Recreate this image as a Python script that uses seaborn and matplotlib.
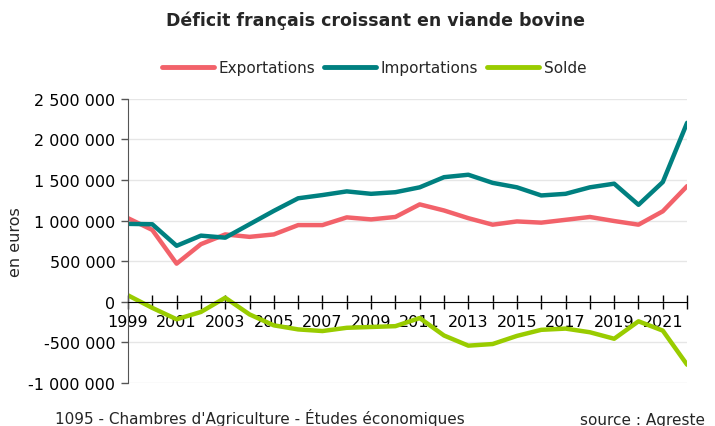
import numpy as np
import pandas as pd
import matplotlib
matplotlib.use("Agg")
import matplotlib.pyplot as plt
import seaborn as sns
from matplotlib.ticker import FuncFormatter, MultipleLocator

# Data
years = list(range(1999, 2023))
exportations = [1030000, 885000, 470000, 710000, 830000, 800000, 830000, 945000,
                945000, 1040000, 1015000, 1045000, 1200000, 1125000, 1030000, 950000,
                990000, 975000, 1010000, 1045000, 995000, 950000, 1115000, 1425000]
importations = [960000, 955000, 690000, 815000, 790000, 955000, 1120000, 1275000,
                1315000, 1360000, 1330000, 1350000, 1410000, 1535000, 1565000, 1465000,
                1410000, 1310000, 1330000, 1410000, 1455000, 1195000, 1475000, 2205000]
solde = [80000, -75000, -215000, -125000, 50000, -155000, -290000, -340000,
         -360000, -320000, -310000, -300000, -200000, -415000, -540000, -520000,
         -420000, -345000, -330000, -375000, -455000, -240000, -355000, -775000]
series_names = ["Exportations", "Importations", "Solde"]
series_colors = ["#F2626A", "#008080", "#99CC00"]
year_labels = [str(y) if (y - 1999) % 2 == 0 else "" for y in years]

df = pd.DataFrame({"Année": years * 3,
                   "Valeur": exportations + importations + solde,
                   "Série": [s for s in series_names for _ in years]})

sns.set_style("white")
plt.rcParams["font.family"] = ["DejaVu Sans"]

fig = plt.figure(figsize=(7.15, 4.27), dpi=100)
ax = fig.add_axes([0.179, 0.1007, 0.782, 0.6655])

sns.lineplot(data=df, x="Année", y="Valeur", hue="Série", hue_order=series_names,
             palette=series_colors, linewidth=3.2, ax=ax, legend=True)

ax.set_xlim(1999, 2022)
ax.set_ylim(-1000000, 2500000)
ax.yaxis.set_major_locator(MultipleLocator(500000))
ax.yaxis.set_major_formatter(FuncFormatter(lambda v, p: f"{int(v):,}".replace(",", " ")))
ax.grid(axis="y", color="#e6e6e6", linewidth=1)
ax.set_axisbelow(True)

# x axis drawn at zero
ax.spines["bottom"].set_position(("data", 0))
ax.spines["bottom"].set_color("black")
ax.spines["top"].set_visible(False)
ax.spines["right"].set_visible(False)
ax.spines["left"].set_color("#555555")
ax.set_xticks(years)
ax.set_xticklabels(year_labels)
ax.tick_params(axis="x", bottom=True, direction="inout", length=10, width=1,
               colors="black", labelsize=11.5, pad=4)
ax.tick_params(axis="y", left=True, direction="out", length=5, width=1, color="#555555",
               labelsize=11.5, labelcolor="black", pad=4)

ax.set_xlabel("")
ax.set_ylabel("en euros", fontsize=11.5, labelpad=4)

leg = ax.legend(loc="center", bbox_to_anchor=(0.44, 1.11), ncol=3, frameon=False,
                handlelength=3.4, handletextpad=0.3, columnspacing=0.6,
                prop={"size": 11})
for line in leg.get_lines():
    line.set_linewidth(3.5)

fig.text(0.525, 0.952, "Déficit français croissant en viande bovine",
         ha="center", va="center", fontsize=12.5, fontweight="bold")
fig.text(0.077, 0.021, "1095 - Chambres d'Agriculture - Études économiques",
         ha="left", va="center", fontsize=11)
fig.text(0.811, 0.016, "source : Agreste", ha="left", va="center", fontsize=11)

fig.savefig("out.png", dpi=100)
